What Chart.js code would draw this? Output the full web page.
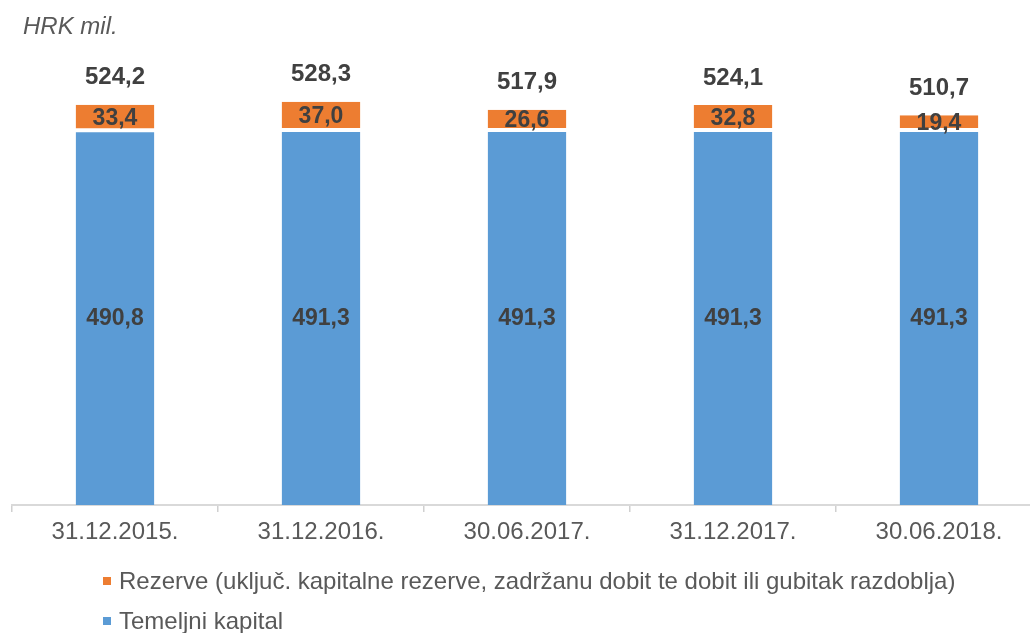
<!DOCTYPE html>
<html>
<head>
<meta charset="utf-8">
<script src="https://cdn.jsdelivr.net/npm/chart.js@4/dist/chart.umd.min.js"></script>
<style>
  html, body { margin: 0; padding: 0; background: #fff; overflow: hidden; }
  #wrap { width: 1042px; height: 633px; }
</style>
</head>
<body>
<div id="wrap"><canvas id="capitalChart" width="1042" height="633"></canvas></div>
<script>
  // Values
  const categories = ["31.12.2015.", "31.12.2016.", "30.06.2017.", "31.12.2017.", "30.06.2018."];
  const temeljniKapital = [490.8, 491.3, 491.3, 491.3, 491.3];
  const rezerve = [33.4, 37.0, 26.6, 32.8, 19.4];
  const totals = [524.2, 528.3, 517.9, 524.1, 510.7];

  const FONT = "'Liberation Sans', Arial, sans-serif";
  const BLUE = "#5B9BD5";
  const ORANGE = "#ED7D31";

  const fmt = v => v.toFixed(1).replace(".", ",");

  // Segment values and totals above the bars
  const valueLabels = {
    id: "valueLabels",
    afterDatasetsDraw(chart) {
      const ctx = chart.ctx;
      ctx.save();
      ctx.fillStyle = "#404040";
      ctx.textAlign = "center";
      ctx.textBaseline = "middle";
      ctx.font = "bold 23px " + FONT;
      chart.data.datasets.forEach((ds, i) => {
        chart.getDatasetMeta(i).data.forEach((bar, j) => {
          ctx.fillText(fmt(ds.data[j]), bar.x, (bar.y + bar.base) / 2 + 1);
        });
      });
      const top = chart.getDatasetMeta(chart.data.datasets.length - 1).data;
      ctx.font = "bold 24px " + FONT;
      top.forEach((bar, j) => {
        ctx.fillText(fmt(totals[j]), bar.x, bar.y - 27);
      });
      ctx.restore();
    }
  };

  // Unit note and the stacked legend at the bottom (reverse order)
  const extras = {
    id: "extras",
    afterDraw(chart) {
      const ctx = chart.ctx;
      ctx.save();
      ctx.fillStyle = "#595959";
      ctx.textBaseline = "middle";
      ctx.textAlign = "left";
      ctx.font = "italic 24px " + FONT;
      ctx.fillText("HRK mil.", 23, 27);

      ctx.font = "24px " + FONT;
      const items = chart.data.datasets.slice().reverse();
      items.forEach((ds, k) => {
        const y = 581 + k * 40;
        ctx.fillStyle = ds.backgroundColor;
        ctx.fillRect(103, y - 4, 8, 8);
        ctx.fillStyle = "#595959";
        ctx.fillText(ds.label, 119, y + 1);
      });
      ctx.restore();
    }
  };

  new Chart(document.getElementById("capitalChart"), {
    type: "bar",
    data: {
      labels: categories,
      datasets: [
        {
          label: "Temeljni kapital",
          data: temeljniKapital,
          backgroundColor: BLUE,
          borderColor: "#ffffff",
          borderWidth: { top: 2, bottom: 0, left: 0, right: 0 },
          borderSkipped: false
        },
        {
          label: "Rezerve (uključ. kapitalne rezerve, zadržanu dobit te dobit ili gubitak razdoblja)",
          data: rezerve,
          backgroundColor: ORANGE,
          borderColor: "#ffffff",
          borderWidth: { top: 0, bottom: 2, left: 0, right: 0 },
          borderSkipped: false
        }
      ]
    },
    options: {
      responsive: false,
      animation: false,
      devicePixelRatio: 1,
      layout: {
        padding: { left: 12, right: 0, top: 47, bottom: 0 }
      },
      datasets: {
        bar: { categoryPercentage: 1, barPercentage: 0.382 }
      },
      plugins: {
        legend: { display: false },
        tooltip: { enabled: false }
      },
      scales: {
        x: {
          stacked: true,
          afterFit(scale) { scale.height = 128; },
          grid: {
            display: true,
            drawOnChartArea: false,
            drawTicks: true,
            tickLength: 7,
            color: "#D0D0D0",
            lineWidth: 1.5
          },
          border: { display: true, color: "#D9D9D9", width: 2 },
          ticks: {
            color: "#595959",
            padding: 6,
            font: { family: FONT, size: 24 }
          }
        },
        y: {
          stacked: true,
          display: false,
          min: 0,
          max: 600
        }
      }
    },
    plugins: [valueLabels, extras]
  });
</script>
</body>
</html>
